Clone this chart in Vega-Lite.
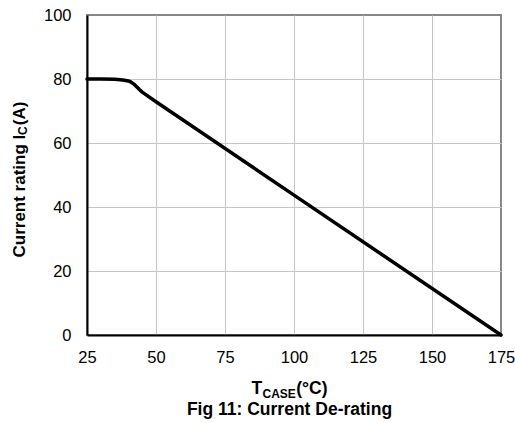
{
  "$schema": "https://vega.github.io/schema/vega-lite/v6.json",
  "width": 414,
  "height": 320,
  "autosize": {"type": "none"},
  "padding": {"left": 87, "top": 15, "right": 14, "bottom": 88},
  "background": "white",
  "config": {
    "view": {"stroke": "#878787", "strokeWidth": 2},
    "font": "Liberation Sans",
    "axis": {"labelFont": "Liberation Sans", "titleFont": "Liberation Sans", "labelColor": "black", "titleColor": "black"}
  },
  "data": {
    "values": [
      {"t": 25, "i": 80.0},
      {"t": 30, "i": 80.0},
      {"t": 35, "i": 79.9},
      {"t": 38, "i": 79.7},
      {"t": 40, "i": 79.4},
      {"t": 41, "i": 79.0},
      {"t": 42, "i": 78.4},
      {"t": 43, "i": 77.6},
      {"t": 44, "i": 76.7},
      {"t": 45, "i": 75.9},
      {"t": 50, "i": 72.9},
      {"t": 100, "i": 43.7},
      {"t": 175, "i": 0}
    ]
  },
  "layer": [
    {
      "mark": {"type": "line", "color": "black", "strokeWidth": 3.5, "strokeCap": "round", "strokeJoin": "round"},
      "encoding": {
        "x": {
          "field": "t", "type": "quantitative",
          "scale": {"domain": [25, 175], "nice": false, "zero": false},
          "axis": {
            "orient": "bottom",
            "values": [25, 50, 75, 100, 125, 150, 175],
            "grid": true,
            "gridColor": "#c6c6c6",
            "gridWidth": 1,
            "gridOpacity": {"condition": {"test": "datum.value == 175", "value": 0}, "value": 1},
            "ticks": false, "tickSize": 0,
            "domainColor": "black", "domainWidth": 2,
            "labelFontSize": 16.5, "labelPadding": 14, "labelFlush": false,
            "title": ["T\u00a0\u00a0\u00a0\u00a0\u00a0\u00a0\u00a0(°C)", "Fig 11: Current De-rating"],
            "titleFontSize": 17.5, "titleFontWeight": "bold",
            "titleAlign": "center", "titleBaseline": "alphabetic",
            "titleX": 202, "titleY": 58.5, "titleLineHeight": 21
          }
        },
        "y": {
          "field": "i", "type": "quantitative",
          "scale": {"domain": [0, 100], "nice": false},
          "axis": {
            "orient": "left",
            "values": [0, 20, 40, 60, 80, 100],
            "grid": true,
            "gridColor": "#c6c6c6",
            "gridWidth": 1,
            "gridOpacity": {"condition": {"test": "datum.value == 100", "value": 0}, "value": 1},
            "ticks": false, "tickSize": 0,
            "domainColor": "black", "domainWidth": 2,
            "labelFontSize": 16.5, "labelPadding": 16, "labelFlush": false,
            "title": "Current rating I\u00a0\u00a0(A)",
            "titleFontSize": 17, "titleFontWeight": "bold",
            "titleAngle": 270, "titleAlign": "left", "titleBaseline": "alphabetic",
            "titleX": -63, "titleY": 242
          }
        }
      }
    },
    {
      "mark": {"type": "line", "opacity": 0},
      "encoding": {
        "x": {
          "field": "t", "type": "quantitative",
          "axis": {
            "orient": "bottom", "grid": false, "labels": false, "ticks": false, "domain": false,
            "title": "CASE", "titleFontSize": 12, "titleFontWeight": "bold",
            "titleAlign": "left", "titleBaseline": "alphabetic",
            "titleX": 175, "titleY": 62
          }
        },
        "y": {
          "field": "i", "type": "quantitative",
          "axis": {
            "orient": "left", "grid": false, "labels": false, "ticks": false, "domain": false,
            "title": "C", "titleFontSize": 12, "titleFontWeight": "bold",
            "titleAngle": 270, "titleAlign": "left", "titleBaseline": "alphabetic",
            "titleX": -61, "titleY": 119.5
          }
        }
      }
    }
  ],
  "resolve": {"axis": {"x": "independent", "y": "independent"}}
}
